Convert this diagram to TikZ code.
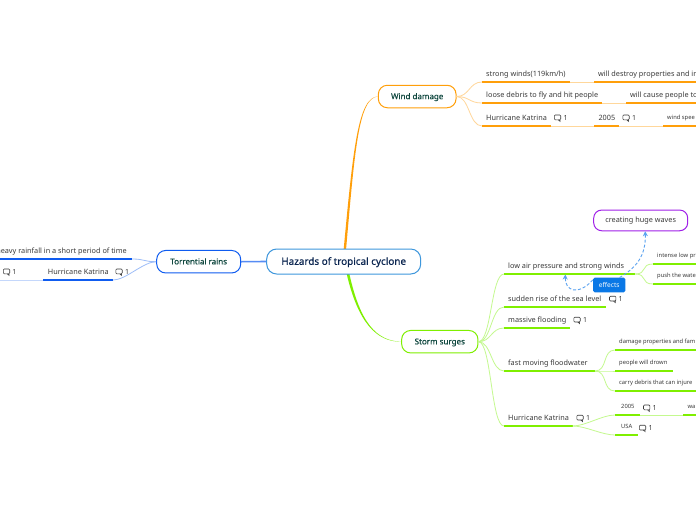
\documentclass[tikz,border=0pt]{standalone}
\usepackage{fontspec}
\setmainfont{Noto Sans}
\newfontfamily\semibold[FakeBold=0.5]{Noto Sans}
\usetikzlibrary{arrows.meta}
\definecolor{orangeD}{HTML}{FF9F0A}
\definecolor{orangeL}{HTML}{FFD79B}
\definecolor{greenD}{HTML}{7FEF00}
\definecolor{greenL}{HTML}{C4F98F}
\definecolor{blueD}{HTML}{0F5CF0}
\definecolor{blueL}{HTML}{9DBDF8}
\definecolor{rootB}{HTML}{3E97DC}
\definecolor{rootT}{HTML}{0B2550}
\definecolor{topicT}{HTML}{10483F}
\definecolor{leafT}{HTML}{3A3A3A}
\definecolor{purpleB}{HTML}{A020E8}
\definecolor{effB}{HTML}{0A78E6}
\definecolor{dashC}{HTML}{5AA2F0}
\tikzset{
  rootbox/.style={draw=rootB,line width=1pt,rounded corners=10pt,fill=white,text=rootT,font=\fontsize{9.9}{11}\selectfont\semibold,minimum width=154pt,minimum height=25pt,inner sep=0pt,text height=7.8pt,text depth=1.2pt},
  topicbox/.style={draw=#1,line width=1pt,rounded corners=9pt,fill=white,text=topicT,font=\fontsize{8}{10}\selectfont\semibold,minimum height=22.5pt,inner sep=0pt,text height=6.5pt,text depth=1.2pt},
  leaftext/.style={text=leafT,font=\fontsize{7.3}{9}\selectfont,inner sep=0pt,anchor=west,text height=6pt,text depth=2pt},
  smalltext/.style={text=leafT,font=\fontsize{5.8}{7}\selectfont,inner sep=0pt,anchor=west,text height=5pt,text depth=1.5pt},
  under/.style={line width=1.9pt,draw=#1},
  link/.style={line width=0.8pt,draw=#1},
  dashlink/.style={draw=dashC,line width=0.9pt,dash pattern=on 3pt off 2pt,-{Stealth[length=5pt,width=5pt]}},
}
% name, x1, x2, baseline y, colour, text, text style
\newcommand\leafline[7]{%
  \coordinate (#1-l) at (#2,#4);
  \coordinate (#1-r) at (#3,#4);
  \draw[under=#5] (#1-l) -- (#1-r);
  \node[#7] (#1) at (#2+4,#4-7.9) {#6};
}
\newcommand\curvelink[3]{%
  \draw[link=#3] (#1) .. controls +(13,0) and +(-13,0) .. (#2);
}
% comment icon + count
\newcommand\cmt[3]{%
  \draw[leafT,line width=0.6pt,rounded corners=1pt] (#2-3.2,#3-2.8) rectangle (#2+3.2,#3+2);
  \draw[leafT,line width=0.6pt] (#2+0.8,#3+2) -- (#2+2.6,#3+3.6) -- (#2+2.6,#3+2);
  \node[leaftext,font=\fontsize{7}{8}\selectfont] (#1) at (#2+5.8,#3+0.6) {1};
}
\begin{document}
\begin{tikzpicture}[x=1pt,y=-1pt]
\useasboundingbox (0,0) rectangle (696,520);
\clip (0,0) rectangle (696,520);
\fill[white] (0,0) rectangle (696,520);

% main trunks (tapering towards the topics)
\coordinate (rootN) at (345,249);
\coordinate (rootS) at (348,274);
\coordinate (windW) at (378.3,96.5);
\coordinate (stormW) at (401.7,341.7);
\fill[orangeD] (343.6,250) .. controls (353,150) and (358,96.1) .. (windW)
   .. controls (358.6,97) and (354.8,150) .. (346,250) -- cycle;
\fill[greenD] (346.7,274) .. controls (358,322) and (376,342.1) .. (stormW)
   .. controls (376,341.2) and (360,322) .. (349.4,274) -- cycle;
\node[rootbox] (root) at (343.7,261.5) {Hazards of tropical cyclone};
\node[topicbox=orangeD,minimum width=77.7pt] (wind) at (417.2,96.5) {Wind damage};
\node[topicbox=blueD,minimum width=84pt] (rain) at (198.7,261.7) {Torrential rains};
\node[topicbox=greenD,minimum width=76.3pt] (storm) at (439.8,341.7) {Storm surges};
\draw[line width=1.6pt,draw=blueD!50!blueL] (root.west) -- (rain.east);

% wind damage
\leafline{w1}{482}{570}{82}{orangeD}{strong winds(119km/h)}{leaftext}
\leafline{w1b}{594}{700}{82}{orangeD}{will destroy properties and in}{leaftext}
\leafline{w2}{482}{601.7}{103}{orangeD}{loose debris to fly and hit people}{leaftext}
\leafline{w2b}{626}{700}{103}{orangeD}{will cause people to}{leaftext}
\leafline{w3}{482}{551}{126}{orangeD}{Hurricane Katrina}{leaftext}
\leafline{w3b}{594.3}{619.3}{126}{orangeD}{2005}{leaftext}
\leafline{w3c}{663}{700}{126}{orangeD}{wind spee}{smalltext}
\cmt{cw3}{557.5}{117.8}
\cmt{cw3b}{626}{117.8}
\curvelink{wind.east}{w1-l}{orangeL}
\curvelink{wind.east}{w2-l}{orangeL}
\curvelink{wind.east}{w3-l}{orangeL}
\draw[link=orangeL] (w1-r) -- (w1b-l);
\draw[link=orangeL] (w2-r) -- (w2b-l);
\draw[link=orangeL] (w3-r) -- (w3b-l);
\draw[link=orangeL] (w3b-r) -- (w3c-l);

% torrential rains
\coordinate (r1-r) at (132,259);
\coordinate (r1-l) at (-5,259);
\draw[under=blueD] (r1-l) -- (r1-r);
\node[leaftext,anchor=east] (r1) at (127,251) {heavy rainfall in a short period of time};
\coordinate (r2-l) at (43.3,280);
\coordinate (r2-r) at (113,280);
\draw[under=blueD] (r2-l) -- (r2-r);
\node[leaftext] (r2) at (47.7,272) {Hurricane Katrina};
\coordinate (r3-r) at (0,280);
\cmt{cr2}{119}{271.8}
\cmt{cr3}{6.5}{271.8}
\draw[link=blueL] (rain.west) .. controls +(-13,0) and +(13,0) .. (r1-r);
\draw[link=blueL] (rain.west) .. controls +(-13,0) and +(13,0) .. (r2-r);
\draw[link=blueL!60!white] (r2-l) -- (r3-r);

% storm surges
\leafline{s1}{504}{635}{274}{greenD}{low air pressure and strong winds}{leaftext}
\leafline{s2}{504}{605.7}{307}{greenD}{sudden rise of the sea level}{leaftext}
\leafline{s3}{504}{570}{328}{greenD}{massive flooding}{leaftext}
\leafline{s4}{504}{595}{371}{greenD}{fast moving floodwater}{leaftext}
\leafline{s5}{504}{572.7}{426}{greenD}{Hurricane Katrina}{leaftext}
\cmt{cs2}{612.7}{299}
\cmt{cs3}{577}{320}
\cmt{cs5}{580}{418}
\leafline{s1a}{653}{700}{264}{greenD}{intense low pr}{smalltext}
\leafline{s1b}{653}{700}{284}{greenD}{push the wate}{smalltext}
\leafline{s4a}{615}{700}{350}{greenD}{damage properties and fam}{smalltext}
\leafline{s4b}{615}{672.7}{371}{greenD}{people will drown}{smalltext}
\leafline{s4c}{615}{700}{391}{greenD}{carry debris that can injure}{smalltext}
\leafline{s5a}{615}{640}{415}{greenD}{2005}{smalltext,xshift=2pt}
\leafline{s5b}{615}{637.7}{435}{greenD}{USA}{smalltext,xshift=2pt}
\leafline{s5c}{683.3}{700}{415}{greenD}{wa}{smalltext}
\cmt{cs5a}{646.7}{407.8}
\cmt{cs5b}{642.5}{428}
\curvelink{storm.east}{s1-l}{greenL}
\curvelink{storm.east}{s2-l}{greenL}
\curvelink{storm.east}{s3-l}{greenL}
\curvelink{storm.east}{s4-l}{greenL}
\curvelink{storm.east}{s5-l}{greenL}
\curvelink{s1-r}{s1a-l}{greenL}
\curvelink{s1-r}{s1b-l}{greenL}
\curvelink{s4-r}{s4a-l}{greenL}
\curvelink{s4-r}{s4b-l}{greenL}
\curvelink{s4-r}{s4c-l}{greenL}
\curvelink{s5-r}{s5a-l}{greenL}
\curvelink{s5-r}{s5b-l}{greenL}
\draw[link=greenL] (s5a-r) -- (s5c-l);

% relationship
\node[draw=purpleB,line width=1pt,rounded corners=8pt,fill=white,text=leafT,font=\fontsize{7.3}{9}\selectfont,minimum width=94pt,minimum height=20.7pt,inner sep=0pt] (waves) at (640.7,220.4) {creating huge waves};
\node[fill=effB,text=white,rounded corners=1.5pt,font=\fontsize{6.6}{8}\selectfont,minimum width=32.3pt,minimum height=14.6pt,inner sep=0pt] (effects) at (609.2,285) {effects};
\coordinate (dashEnd) at (565.3,274.5);
\draw[dashlink] ([xshift=-6pt]effects.north east) .. controls (636,268) and (646,256) .. ([xshift=4.5pt]waves.south);
\draw[dashlink] ([yshift=5pt]effects.west) .. controls (578,296) and (565,291) .. (dashEnd);
\end{tikzpicture}
\end{document}
